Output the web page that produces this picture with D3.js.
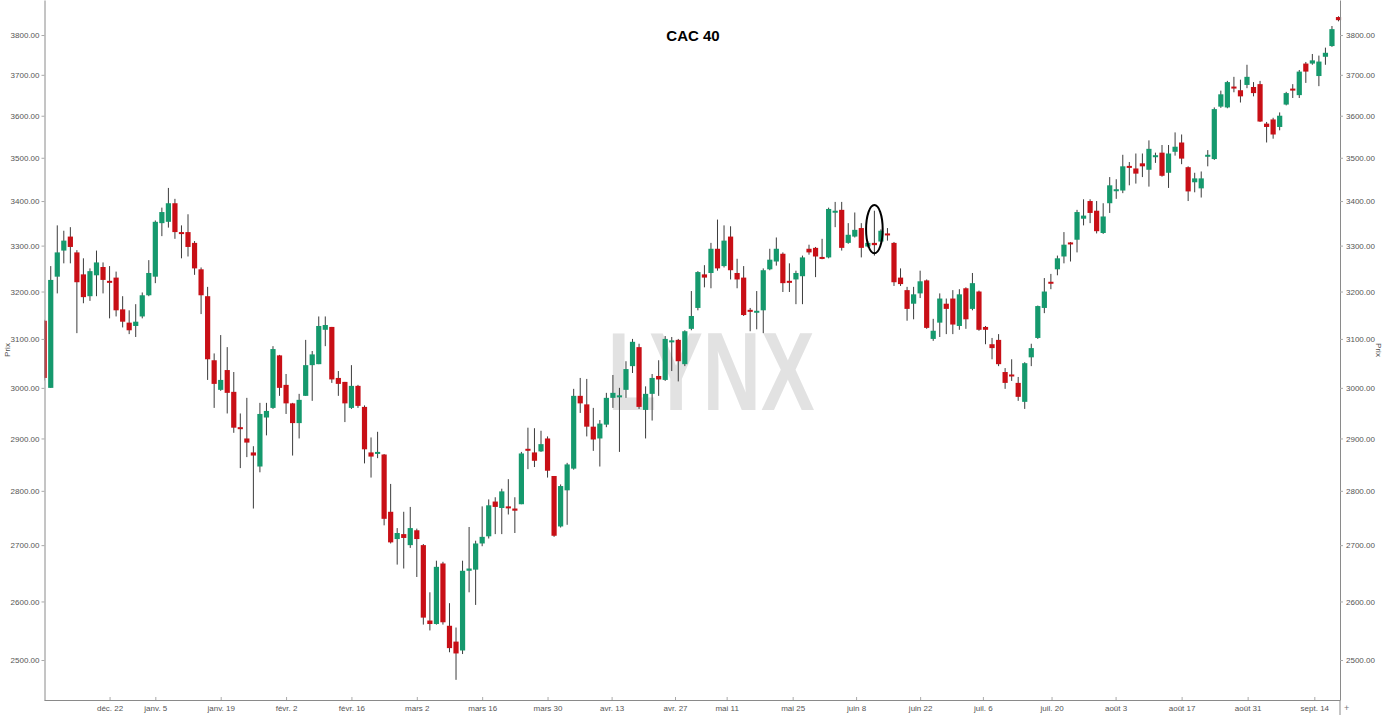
<!DOCTYPE html>
<html><head><meta charset="utf-8">
<script src="https://cdn.jsdelivr.net/npm/d3@7"></script>
<style>
body{margin:0;background:#fff;}
svg{display:block;}
text{font-family:"Liberation Sans",Arial,sans-serif;}
</style>
</head><body>
<svg id="c" width="1386" height="715"></svg>
<script>
const title = "CAC 40";
const opens = [3138,3000,3232,3289,3320,3285,3237,3190,3235,3253,3223,3230,3162,3134,3127,3147,3192,3232,3350,3353,
3395,3330,3330,3306,3248,3190,3056,2996,3036,2992,2922,2900,2873,2846,2941,2960,3066,3006,2969,2930,
2984,3046,3048,3119,3125,3020,3012,2960,3004,2962,2873,2872,2869,2761,2711,2720,2700,2727,2700,2567,
2561,2667,2558,2531,2516,2654,2656,2703,2716,2780,2768,2771,2767,2775,2880,2873,2875,2900,2828,2734,
2801,2842,2984,2967,2923,2900,2927,2980,2983,2996,3044,3083,2956,2988,3024,3016,3095,3098,3048,3121,
3165,3237,3240,3293,3255,3320,3240,3230,3161,3157,3160,3248,3265,3282,3223,3226,3233,3293,3295,3275,
3274,3375,3380,3306,3320,3339,3298,3306,3309,3327,3306,3230,3203,3174,3196,3224,3100,3134,3174,3185,
3127,3207,3163,3200,3125,3089,3098,3032,3027,3010,2972,3062,3102,3165,3221,3248,3276,3307,3313,3360,
3400,3378,3328,3395,3425,3424,3481,3475,3487,3472,3504,3512,3465,3514,3536,3478,3443,3429,3503,3497,
3622,3620,3671,3662,3675,3670,3677,3581,3591,3573,3627,3666,3650,3728,3728,3697,3745,3772,3846];
const highs = [3140,3255,3345,3333,3341,3290,3272,3250,3289,3263,3255,3243,3190,3160,3173,3198,3268,3356,3385,3430,
3405,3345,3370,3310,3252,3210,3070,3108,3083,3032,2949,2980,2885,2970,2970,3085,3067,3028,2970,2988,
3098,3075,3147,3147,3125,3034,3012,3046,3006,2965,2902,2913,2870,2813,2731,2761,2770,2730,2702,2616,
2672,2670,2597,2555,2672,2733,2708,2771,2784,2788,2804,2822,2788,2874,2921,2920,2915,2904,2828,2812,
2853,2998,3020,3018,2960,2936,2990,3026,3000,3054,3100,3090,3003,3028,3056,3106,3104,3100,3118,3201,
3244,3257,3306,3358,3345,3343,3271,3255,3165,3201,3250,3293,3318,3285,3261,3245,3278,3302,3297,3315,
3385,3398,3398,3350,3374,3350,3310,3378,3336,3339,3308,3250,3210,3210,3245,3226,3142,3196,3185,3203,
3205,3209,3240,3202,3127,3102,3110,3040,3058,3022,3052,3090,3170,3229,3238,3278,3330,3308,3380,3404,
3404,3400,3395,3455,3450,3507,3490,3510,3510,3541,3512,3530,3530,3560,3555,3480,3465,3468,3518,3620,
3661,3685,3695,3688,3725,3682,3685,3585,3595,3608,3658,3677,3712,3732,3752,3748,3768,3823,3848];
const lows = [3015,3000,3196,3261,3261,3112,3175,3180,3190,3196,3143,3147,3124,3110,3104,3143,3190,3218,3321,3340,
3315,3272,3276,3236,3152,3016,2960,2994,2949,2911,2843,2864,2767,2835,2906,2958,2984,2948,2867,2900,
2984,2974,3048,3085,3010,2984,2932,2958,2960,2852,2825,2862,2736,2703,2665,2658,2695,2643,2560,2550,
2560,2560,2513,2467,2510,2616,2594,2698,2712,2720,2720,2756,2722,2775,2841,2845,2874,2825,2715,2732,
2737,2840,2950,2904,2876,2846,2922,2960,2874,2980,3030,2958,2900,2935,2984,3014,3034,3013,3044,3118,
3160,3209,3207,3245,3252,3226,3207,3148,3116,3120,3112,3246,3256,3199,3199,3173,3173,3280,3231,3270,
3272,3341,3289,3304,3318,3274,3296,3278,3307,3311,3212,3212,3138,3141,3186,3121,3096,3104,3110,3110,
3119,3121,3160,3117,3089,3058,3044,2998,3014,2974,2958,3044,3100,3154,3205,3235,3261,3265,3285,3345,
3350,3327,3326,3373,3405,3418,3436,3440,3455,3433,3488,3456,3430,3505,3485,3400,3420,3408,3480,3495,
3619,3618,3657,3632,3667,3647,3585,3536,3545,3565,3625,3643,3643,3680,3725,3672,3725,3770,3835];
const closes = [3020,3225,3285,3311,3297,3220,3188,3244,3263,3225,3220,3160,3136,3118,3136,3192,3240,3353,3375,3395,
3330,3327,3297,3250,3192,3058,3008,3016,2990,2921,2920,2892,2867,2948,2954,3079,3000,2969,2930,2976,
3046,3068,3127,3129,3017,3008,2969,3004,2964,2879,2865,2874,2748,2705,2722,2713,2731,2711,2572,2561,
2661,2564,2520,2511,2654,2658,2703,2715,2773,2770,2799,2768,2763,2871,2878,2857,2889,2838,2717,2809,
2850,2984,2969,2923,2898,2929,2980,2990,2985,3038,3094,2962,2988,3020,3017,3100,3097,3054,3116,3148,
3242,3230,3293,3250,3311,3246,3226,3150,3159,3159,3246,3269,3293,3218,3221,3240,3274,3285,3276,3273,
3382,3378,3295,3324,3335,3295,3306,3301,3333,3325,3220,3216,3163,3194,3222,3123,3117,3185,3163,3130,
3194,3141,3218,3119,3119,3081,3048,3010,3025,2982,3050,3081,3169,3200,3219,3272,3302,3305,3375,3367,
3373,3332,3365,3436,3427,3480,3479,3463,3480,3521,3506,3458,3510,3526,3498,3422,3452,3452,3507,3616,
3652,3682,3669,3647,3695,3655,3586,3573,3555,3600,3655,3664,3708,3708,3736,3733,3755,3815,3838];
const tickIdx = [10,17,27,37,47,57,67,77,86.8,96.5,104.4,114.5,124.2,134,143.6,154.1,163.9,174,184.1,194.3];
const tickLabels = ["déc. 22","janv. 5","janv. 19","févr. 2","févr. 16","mars 2","mars 16","mars 30","avr. 13","avr. 27",
"mai 11","mai 25","juin 8","juin 22","juil. 6","juil. 20","août 3","août 17","août 31","sept. 14"];
const priceTicks = [2500,2600,2700,2800,2900,3000,3100,3200,3300,3400,3500,3600,3700,3800];
const markIdx = 127, markHigh = 3391, markLow = 3283;

(function draw() {
const svg = d3.select("#c");
const pL = 44.5, pR = 1340, pT = 0, pB = 700;
const x = d3.scaleLinear().domain([0, opens.length - 1]).range([44.2, 1338.5]);
const y = d3.scaleLog().domain([2433.9, 3890.2]).range([pB, pT]);
const green = "#15996d", red = "#c80f16";

svg.append("text").attr("x", 711).attr("y", 410).attr("text-anchor", "middle")
  .attr("font-size", 112).attr("font-weight", "bold").attr("fill", "#e2e2e2")
  .attr("textLength", 207).attr("lengthAdjust", "spacingAndGlyphs").text("LYNX");

svg.append("clipPath").attr("id", "clip").append("rect")
  .attr("x", pL).attr("y", pT).attr("width", pR - pL + 3).attr("height", pB - pT);

const data = opens.map((o, i) => ({i, o, h: highs[i], l: lows[i], c: closes[i]}));
const g = svg.append("g").attr("clip-path", "url(#clip)");
g.selectAll("line.w").data(data).join("line").attr("class", "w")
  .attr("x1", d => x(d.i)).attr("x2", d => x(d.i))
  .attr("y1", d => y(d.h)).attr("y2", d => y(d.l))
  .attr("stroke", "#3c3c3c").attr("stroke-width", 1);
const bw = 5.2;
g.selectAll("rect.b").data(data).join("rect").attr("class", "b")
  .attr("x", d => x(d.i) - bw / 2).attr("width", bw)
  .attr("y", d => y(Math.max(d.o, d.c)))
  .attr("height", d => Math.max(2, y(Math.min(d.o, d.c)) - y(Math.max(d.o, d.c))))
  .attr("fill", d => d.c >= d.o ? green : red);

svg.append("ellipse").attr("cx", x(markIdx)).attr("cy", (y(markHigh) + y(markLow)) / 2)
  .attr("rx", 8.3).attr("ry", (y(markLow) - y(markHigh)) / 2)
  .attr("fill", "none").attr("stroke", "#000").attr("stroke-width", 2);

function styleAxis(sel) {
  sel.select(".domain").attr("stroke", "#8a8a8a");
  sel.selectAll(".tick line").attr("stroke", "#aaa");
  sel.selectAll(".tick text").attr("fill", "#555").attr("font-size", 8)
    .attr("font-family", "'Liberation Sans', Arial, sans-serif");
}
const fmt = d3.format(".2f");
svg.append("g").attr("transform", `translate(${pL},0)`)
  .call(d3.axisLeft(y).tickValues(priceTicks).tickFormat(fmt).tickSizeInner(3).tickSizeOuter(0).tickPadding(2))
  .call(styleAxis);
svg.append("g").attr("transform", `translate(${pR},0)`)
  .call(d3.axisRight(y).tickValues(priceTicks).tickFormat(fmt).tickSizeInner(3).tickSizeOuter(0).tickPadding(3))
  .call(styleAxis);
svg.append("g").attr("transform", `translate(0,${pB})`)
  .call(d3.axisBottom(x).tickValues(tickIdx).tickFormat((d, i) => tickLabels[i]).tickSizeInner(-3).tickSizeOuter(0).tickPadding(5))
  .call(styleAxis)
  .call(s => s.select(".domain").attr("d", `M${pL},0.5H${pR}`));
svg.append("line").attr("x1", pR).attr("x2", pR).attr("y1", pB).attr("y2", 715).attr("stroke", "#8a8a8a");

svg.append("text").attr("transform", "translate(10,350) rotate(-90)").attr("text-anchor", "middle")
  .attr("font-size", 8).attr("fill", "#555").text("Prix");
svg.append("text").attr("transform", "translate(1376,350) rotate(90)").attr("text-anchor", "middle")
  .attr("font-size", 8).attr("fill", "#555").text("Prix");
svg.append("text").attr("x", 1344).attr("y", 711).attr("font-size", 9).attr("fill", "#777").text("+");

svg.append("text").attr("x", 693).attr("y", 41).attr("text-anchor", "middle")
  .attr("font-size", 15).attr("font-weight", "bold").attr("fill", "#000").text(title);
})();
</script>
</body></html>
